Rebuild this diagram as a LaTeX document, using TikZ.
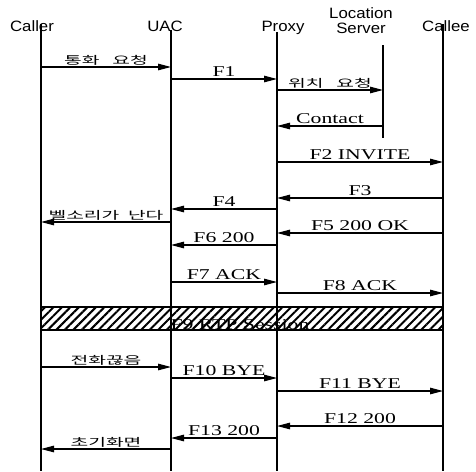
\documentclass[tikz,border=0pt]{standalone}
\usepackage{fontspec}
\setmainfont{Liberation Serif}
\newfontfamily\headfont[FakeStretch=1.12]{Liberation Sans}
\newfontfamily\lblfont[FakeStretch=1.45]{Liberation Serif}
\newfontfamily\krfont[FakeStretch=1.75]{Noto Sans CJK KR}
\usetikzlibrary{positioning, calc, arrows.meta, patterns.meta}
\tikzset{
	headtext/.style={font=\headfont\fontsize{15}{14.5}\selectfont, inner sep=0pt}
}
\tikzset{
	msgline/.style={-{Triangle[length=13pt,width=6.5pt]}, line width=1.2pt},
	msgtext/.style={font=\lblfont\fontsize{15}{16}\selectfont, midway, anchor=base, yshift=2.5pt, inner sep=0pt}
}
\newcommand{\kr}[1]{{\krfont\fontsize{11}{12}\selectfont #1}}
\newcommand{\sipmsg}[4]{\draw[msgline] (#1 |- 0,#3) -- node[msgtext] (m#3) {#4} (#2 |- 0,#3);}

\begin{document}
\begin{tikzpicture}[x=1pt, y=-1pt, line width=1.3pt]
      \useasboundingbox (0,0) rectangle (476,471);
      % headers
      \node[headtext, anchor=base] (callerhd) at (32,31) {Caller};
      \node[headtext, anchor=base] (uachd) at (165,31) {UAC};
      \node[headtext, anchor=base] (proxyhd) at (283,31) {Proxy};
      \node[headtext, anchor=north, align=center] (lochd) at (361,7) {Location\\Server};
      \node[headtext, anchor=base] (calleehd) at (446,31) {Callee};
      % lifelines
      \coordinate (caller) at (41,24);
      \coordinate (uac) at (171,30);
      \coordinate (proxy) at (277,32);
      \coordinate (loc) at (383,45);
      \coordinate (callee) at (443,24);
      \coordinate (locend) at (383,138);
      \foreach \p in {caller, uac, proxy, callee}
        \draw (\p) -- (\p |- 0,471);
      \draw (loc) -- (locend);
      % call setup
      \sipmsg{caller}{uac}{67}{\kr{통화\ \ \ 요청}}
      \sipmsg{uac}{proxy}{79}{F1}
      \sipmsg{proxy}{loc}{90}{\kr{위치\ \ \ 요청}}
      \sipmsg{loc}{proxy}{126}{Contact}
      \sipmsg{proxy}{callee}{162}{F2 INVITE}
      \sipmsg{callee}{proxy}{198}{F3}
      \sipmsg{proxy}{uac}{209}{F4}
      \sipmsg{uac}{caller}{222}{\kr{벨소리가\ \ 난다}}
      \sipmsg{callee}{proxy}{233}{F5 200 OK}
      \sipmsg{proxy}{uac}{245}{F6 200}
      \sipmsg{uac}{proxy}{282}{F7 ACK}
      \sipmsg{proxy}{callee}{293}{F8 ACK}
      % media session
      \draw[pattern={Lines[angle=45,distance=6pt,line width=2pt]}] (caller |- 0,307) rectangle (callee |- 0,330);
      \node[font=\lblfont\fontsize{15}{16}\selectfont, anchor=base, inner sep=0pt] (rtp) at (240,329) {F9 RTP Session};
      % teardown
      \sipmsg{caller}{uac}{367}{\kr{전화끊음}}
      \sipmsg{uac}{proxy}{378}{F10 BYE}
      \sipmsg{proxy}{callee}{391}{F11 BYE}
      \sipmsg{callee}{proxy}{426}{F12 200}
      \sipmsg{proxy}{uac}{438}{F13 200}
      \sipmsg{uac}{caller}{449}{\kr{초기화면}}
    \end{tikzpicture}
\end{document}
